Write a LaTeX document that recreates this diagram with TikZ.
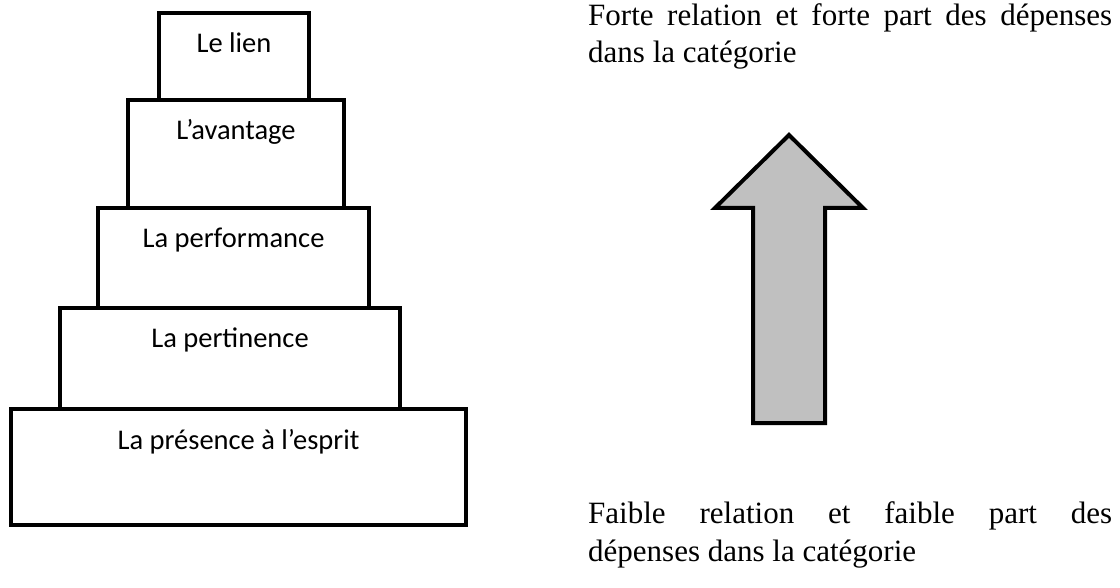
\documentclass[tikz,border=0pt]{standalone}
\usepackage{fontspec}
\setmainfont{Liberation Serif}
\newfontfamily\calfont{Carlito}
\definecolor{arrowgray}{HTML}{C0C0C0}
\begin{document}
\begin{tikzpicture}[x=1pt,y=-1pt,
  tier/.style={draw=black, line width=4pt, fill=white, rectangle, inner sep=0pt, outer sep=0pt},
  lbl/.style={font=\calfont\fontsize{28.5}{34}\selectfont, anchor=base, inner sep=0pt},
  sidefull/.style={font=\fontsize{31}{38}\selectfont, anchor=base west, inner sep=0pt, text width=524pt, align=justify},
  sidelast/.style={font=\fontsize{31}{38}\selectfont, anchor=base west, inner sep=0pt},
  bigarrow/.style={draw=black, line width=4pt, fill=arrowgray, line join=miter}]
\useasboundingbox (0,0) rectangle (1120,588);

% pyramid tiers (bottom to top)
\node[tier, minimum width=455pt, minimum height=116pt] (t5) at (238.5,467) {};
\node[tier, minimum width=340pt, minimum height=101pt] (t4) at (230,358.5) {};
\node[tier, minimum width=271pt, minimum height=100pt] (t3) at (233.5,258) {};
\node[tier, minimum width=216pt, minimum height=108pt] (t2) at (236,154) {};
\node[tier, minimum width=150pt, minimum height=87pt] (t1) at (234,56.5) {};

\node[lbl] (l1) at ([yshift=-40pt]t1.north) {Le lien};
\node[lbl] (l2) at ([yshift=-40pt]t2.north) {L’avantage};
\node[lbl] (l3) at ([yshift=-40pt]t3.north) {La performance};
\node[lbl] (l4) at ([yshift=-40pt]t4.north) {La pertinence};
\node[lbl] (l5) at ([yshift=-40pt]t5.north) {La présence à l’esprit};

% big arrow
\coordinate (tip) at (789,135);
\draw[bigarrow] (tip) -- (863,208) -- (825,208) -- (825,423) -- (753,423) -- (753,208) -- (715,208) -- cycle;

% side texts
\node[sidefull] (hi1) at (588,26) {{\parfillskip=0pt Forte relation et forte part des dépenses\par}};
\node[sidelast] (hi2) at (588,63) {dans la catégorie};
\node[sidefull] (lo1) at (588,523) {{\parfillskip=0pt Faible relation et faible part des\par}};
\node[sidelast] (lo2) at (588,561) {dépenses dans la catégorie};
\end{tikzpicture}
\end{document}
